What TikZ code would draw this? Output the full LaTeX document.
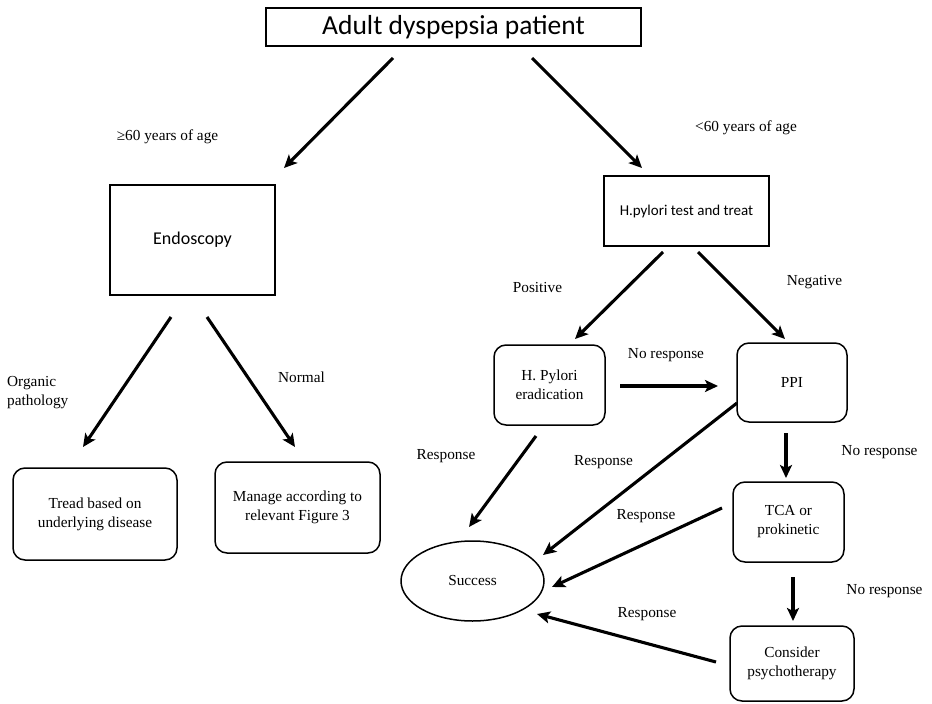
\documentclass[tikz,border=0pt]{standalone}
\usepackage{fontspec}
\setmainfont{Liberation Serif}
\newfontfamily\calfont{Carlito}
\usetikzlibrary{arrows.meta,shapes.geometric}
\tikzset{
  sqbox/.style={draw, line width=1.5pt, inner sep=0pt, font=\calfont\fontsize{15}{18}\selectfont},
  rbox/.style={draw, line width=1.5pt, rounded corners=12pt, inner sep=0pt, align=center, font=\fontsize{15.3}{19}\selectfont},
  lbl/.style={inner sep=0pt, font=\fontsize{15.3}{19}\selectfont, align=left},
  arr/.style={line width=3.1pt, -{Stealth[length=13pt,width=12pt,inset=3pt]}},
}
\begin{document}
\begin{tikzpicture}[x=1pt,y=-1pt]
\useasboundingbox[fill=white] (0,0) rectangle (932,704);
% nodes
\node[sqbox, minimum width=375pt, minimum height=38pt, line width=1.6pt, font=\calfont\fontsize{27.5}{30}\selectfont] (top) at (453.5,27) {Adult dyspepsia patient};
\node[sqbox, minimum width=165pt, minimum height=110pt, font=\calfont\fontsize{18}{21}\selectfont] (endo) at (192.5,240) {Endoscopy};
\node[sqbox, minimum width=165pt, minimum height=70pt] (hp) at (686.5,211) {H.pylori test and treat};
\node[rbox, minimum width=111pt, minimum height=80pt] (erad) at (549.5,385) {H. Pylori\\eradication};
\node[rbox, minimum width=110pt, minimum height=79pt] (ppi) at (792,382.5) {PPI};
\node[rbox, minimum width=111pt, minimum height=80pt] (tca) at (788.5,522) {TCA or\\prokinetic};
\node[rbox, minimum width=124pt, minimum height=75pt] (psy) at (792,663.5) {Consider\\psychotherapy};
\node[draw, ellipse, line width=1.5pt, minimum width=143pt, minimum height=80pt, inner sep=0pt, font=\fontsize{15.3}{19}\selectfont] (succ) at (472.5,581) {Success};
\node[rbox, minimum width=164pt, minimum height=92pt] (tread) at (95,514) {Tread based on\\underlying disease};
\node[rbox, minimum width=165pt, minimum height=91pt] (manage) at (297.5,507.5) {Manage according to\\relevant Figure 3};
% labels
\node[lbl] (l60a) at (167.5,137) {≥60 years of age};
\node[lbl] (l60b) at (746,128) {<60 years of age};
\node[lbl] (lpos) at (537.5,288) {Positive};
\node[lbl] (lneg) at (814.5,282) {Negative};
\node[lbl, anchor=west] (lorg) at (7,393) {Organic\\pathology};
\node[lbl] (lnorm) at (301.5,377) {Normal};
\node[lbl] (lnr1) at (666,355) {No response};
\node[lbl] (lr1) at (446,456) {Response};
\node[lbl] (lr2) at (603.5,462) {Response};
\node[lbl] (lnr2) at (879.5,452) {No response};
\node[lbl] (lr3) at (646,516) {Response};
\node[lbl] (lnr3) at (884.5,591) {No response};
\node[lbl] (lr4) at (647,614) {Response};
% arrow end points
\coordinate (a1s) at (393,58);  \coordinate (a1e) at (284,168);
\coordinate (a2s) at (532,58);  \coordinate (a2e) at (642,168);
\coordinate (a3s) at (171,317); \coordinate (a3e) at (83,447);
\coordinate (a4s) at (207,317); \coordinate (a4e) at (295,447);
\coordinate (a5s) at (663,252); \coordinate (a5e) at (575,339);
\coordinate (a6s) at (698,252); \coordinate (a6e) at (785,339);
\coordinate (a7s) at (620,386); \coordinate (a7e) at (718,386);
\coordinate (a8s) at (536,436); \coordinate (a8e) at (469,527);
\coordinate (a9s) at (737,403); \coordinate (a9e) at (543,555);
\coordinate (a10s) at (786,433); \coordinate (a10e) at (786,478);
\coordinate (a11s) at (722,508); \coordinate (a11e) at (552,587);
\coordinate (a12s) at (793,577); \coordinate (a12e) at (793,621);
\coordinate (a13s) at (716,662); \coordinate (a13e) at (537,614);
% arrows
\draw[arr] (a1s) -- (a1e);
\draw[arr] (a2s) -- (a2e);
\draw[arr] (a3s) -- (a3e);
\draw[arr] (a4s) -- (a4e);
\draw[arr] (a5s) -- (a5e);
\draw[arr] (a6s) -- (a6e);
\draw[arr] (a7s) -- (a7e);
\draw[arr] (a8s) -- (a8e);
\draw[arr] (a9s) -- (a9e);
\draw[arr] (a10s) -- (a10e);
\draw[arr] (a11s) -- (a11e);
\draw[arr] (a12s) -- (a12e);
\draw[arr] (a13s) -- (a13e);
\end{tikzpicture}
\end{document}
